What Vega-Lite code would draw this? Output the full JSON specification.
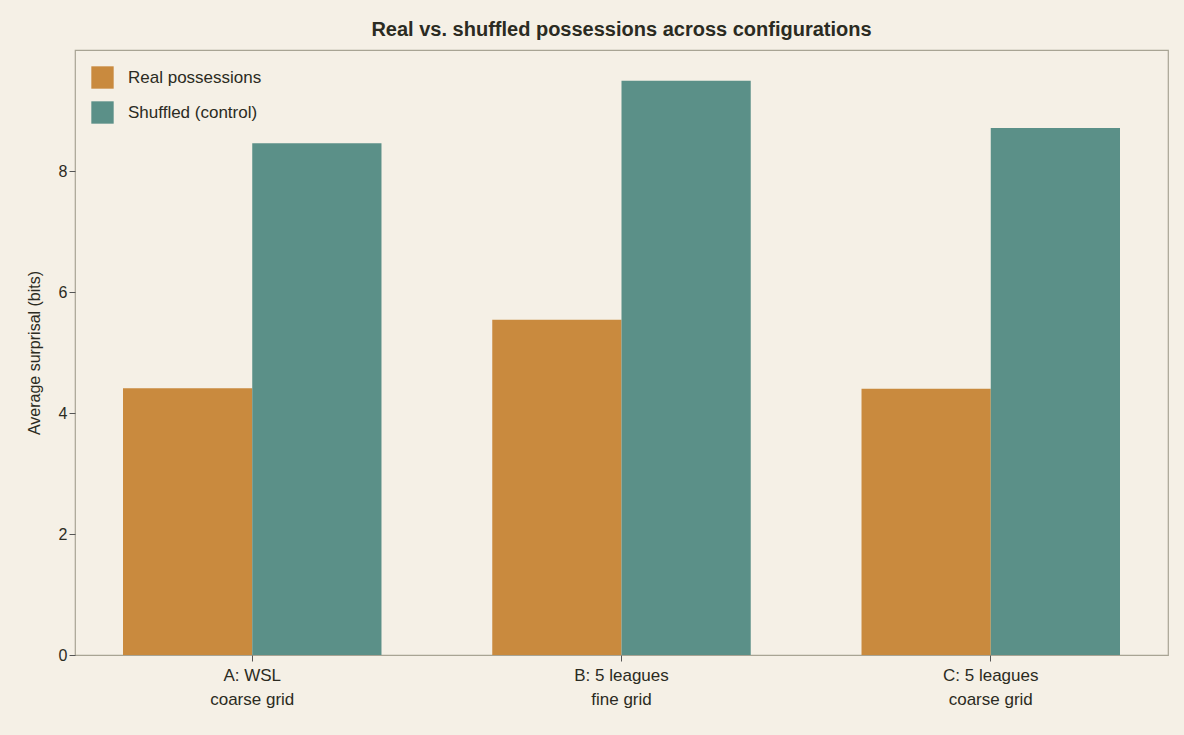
{
  "$schema": "https://vega.github.io/schema/vega-lite/v6.json",
  "width": 1093,
  "height": 605,
  "autosize": "none",
  "padding": {"left": 75, "top": 50, "right": 16, "bottom": 80},
  "background": "#f5f0e6",
  "title": {"text": "Real vs. shuffled possessions across configurations", "fontSize": 20, "fontWeight": "bold", "color": "#2b2b22", "offset": 10},
  "data": {
    "values": [
      {"config": "A: WSL|coarse grid", "series": "Real possessions", "bits": 4.41},
      {"config": "A: WSL|coarse grid", "series": "Shuffled (control)", "bits": 8.46},
      {"config": "B: 5 leagues|fine grid", "series": "Real possessions", "bits": 5.54},
      {"config": "B: 5 leagues|fine grid", "series": "Shuffled (control)", "bits": 9.49},
      {"config": "C: 5 leagues|coarse grid", "series": "Real possessions", "bits": 4.40},
      {"config": "C: 5 leagues|coarse grid", "series": "Shuffled (control)", "bits": 8.71}
    ]
  },
  "mark": "bar",
  "encoding": {
    "x": {
      "field": "config", "type": "nominal", "title": null,
      "scale": {"paddingInner": 0.3, "paddingOuter": 0.13},
      "axis": {"labelAngle": 0, "labelExpr": "split(datum.label, '|')", "labelFontSize": 17, "labelLineHeight": 24, "labelPadding": 6, "tickSize": 6}
    },
    "xOffset": {"field": "series", "type": "nominal", "scale": {"paddingInner": 0, "paddingOuter": 0}},
    "y": {
      "field": "bits", "type": "quantitative", "title": "Average surprisal (bits)",
      "scale": {"domain": [0, 10], "nice": false},
      "axis": {"values": [0, 2, 4, 6, 8], "grid": false, "labelFontSize": 16, "titleFontSize": 16, "titleFontWeight": "normal", "tickSize": 6, "titlePadding": 16}
    },
    "color": {
      "field": "series", "type": "nominal", "title": null,
      "scale": {"domain": ["Real possessions", "Shuffled (control)"], "range": ["#c98a3e", "#5b9088"]},
      "legend": {"orient": "top-left", "offset": 16, "symbolType": "square", "symbolSize": 500, "labelFontSize": 17, "rowPadding": 12, "labelOffset": 14, "symbolStrokeWidth": 0}
    }
  },
  "config": {
    "font": "Liberation Sans",
    "view": {"stroke": "#a8a494", "strokeWidth": 1.2},
    "axis": {"domain": false, "tickColor": "#555", "labelColor": "#2b2b22", "titleColor": "#2b2b22"},
    "legend": {"labelColor": "#2b2b22"}
  }
}
